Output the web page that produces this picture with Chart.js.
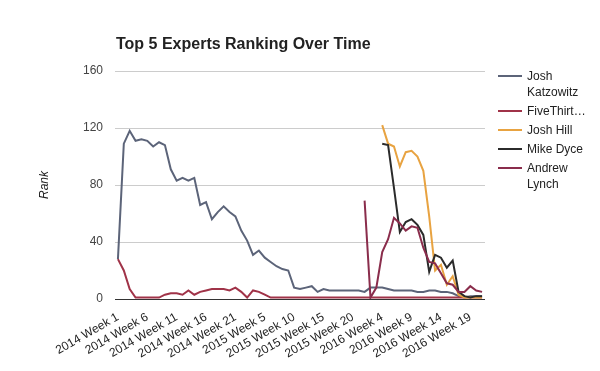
<!DOCTYPE html>
<html>
<head>
<meta charset="utf-8">
<script src="https://cdn.jsdelivr.net/npm/chart.js@4.4.1/dist/chart.umd.min.js"></script>
<style>
  body { margin: 0; background: #fff; }
  canvas { display: block; }
</style>
</head>
<body>
<canvas id="chart" width="600" height="371"></canvas>
<script>
const chartTitle = 'Top 5 Experts Ranking Over Time';
const axisTitle = 'Rank';

const weeks = [
  '2014 Week 1', '2014 Week 2', '2014 Week 3', '2014 Week 4', '2014 Week 5', '2014 Week 6', '2014 Week 7',
  '2014 Week 8', '2014 Week 9', '2014 Week 10', '2014 Week 11', '2014 Week 12', '2014 Week 13', '2014 Week 14',
  '2014 Week 15', '2014 Week 16', '2014 Week 17', '2014 Week 18', '2014 Week 19', '2014 Week 20', '2014 Week 21',
  '2015 Week 1', '2015 Week 2', '2015 Week 3', '2015 Week 4', '2015 Week 5', '2015 Week 6', '2015 Week 7',
  '2015 Week 8', '2015 Week 9', '2015 Week 10', '2015 Week 11', '2015 Week 12', '2015 Week 13', '2015 Week 14',
  '2015 Week 15', '2015 Week 16', '2015 Week 17', '2015 Week 18', '2015 Week 19', '2015 Week 20', '2015 Week 21',
  '2016 Week 1', '2016 Week 2', '2016 Week 3', '2016 Week 4', '2016 Week 5', '2016 Week 6', '2016 Week 7',
  '2016 Week 8', '2016 Week 9', '2016 Week 10', '2016 Week 11', '2016 Week 12', '2016 Week 13', '2016 Week 14',
  '2016 Week 15', '2016 Week 16', '2016 Week 17', '2016 Week 18', '2016 Week 19', '2016 Week 20', '2016 Week 21',
];

const rankTicks = [0, 40, 80, 120, 160];

const joshKatzowitz = [
  28, 109, 118, 111, 112, 111, 107, 110, 108, 91, 83, 85, 83, 85, 66, 68, 56, 61, 65, 61, 58,
  48, 41, 31, 34, 29, 26, 23, 21, 20, 8, 7, 8, 9, 5, 7, 6, 6, 6, 6, 6, 6,
  5, 8, 8, 8, 7, 6, 6, 6, 6, 5, 5, 6, 6, 5, 5, 4, 2, 1, 2, 2, 2,
];

const fiveThirtyEight = [
  28, 20, 7, 1, 1, 1, 1, 1, 3, 4, 4, 3, 6, 3, 5, 6, 7, 7, 7, 6, 8,
  5, 1, 6, 5, 3, 1, 1, 1, 1, 1, 1, 1, 1, 1, 1, 1, 1, 1, 1, 1, 1,
  1, 1, 1, 1, 1, 1, 1, 1, 1, 1, 1, 1, 1, 1, 1, 1, 1, 1, 1, 1, 1,
];

const joshHill = [
  null, null, null, null, null, null, null, null, null, null, null, null, null, null, null, null, null, null, null, null, null,
  null, null, null, null, null, null, null, null, null, null, null, null, null, null, null, null, null, null, null, null, null,
  null, null, null, 122, 109, 107, 93, 103, 104, 100, 90, 58, 20, 24, 10, 16, 3, 1, 1, 1, 1,
];

const mikeDyce = [
  null, null, null, null, null, null, null, null, null, null, null, null, null, null, null, null, null, null, null, null, null,
  null, null, null, null, null, null, null, null, null, null, null, null, null, null, null, null, null, null, null, null, null,
  null, null, null, 109, 108, 78, 47, 54, 56, 52, 45, 19, 31, 29, 22, 27, 5, 2, 1, 2, 2,
];

const andrewLynch = [
  null, null, null, null, null, null, null, null, null, null, null, null, null, null, null, null, null, null, null, null, null,
  null, null, null, null, null, null, null, null, null, null, null, null, null, null, null, null, null, null, null, null, null,
  69, 1, 8, 33, 42, 57, 53, 48, 51, 50, 36, 26, 25, 18, 11, 10, 5, 5, 9, 6, 5,
];

const series = [
  { label: 'Josh Katzowitz', data: joshKatzowitz, color: '#5c6479' },
  { label: 'FiveThirtyEight', data: fiveThirtyEight, color: '#a03348' },
  { label: 'Josh Hill', data: joshHill, color: '#e8a341' },
  { label: 'Mike Dyce', data: mikeDyce, color: '#2b2b2b' },
  { label: 'Andrew Lynch', data: andrewLynch, color: '#8a2d4c' },
];

const fontFamily = 'Arial, "Liberation Sans", sans-serif';
Chart.defaults.font.family = fontFamily;

// wrap legend names like the original does: break on words, cut long words with an ellipsis
function fitLines(ctx, text, width) {
  let lines = [];
  let line = '';
  for (const word of text.split(' ')) {
    let next = line ? line + ' ' + word : word;
    if (!line || ctx.measureText(next).width <= width) {
      line = next;
    } else {
      lines.push(line);
      line = word;
    }
  }
  lines.push(line);

  return lines.map(item => {
    if (ctx.measureText(item).width <= width) return item;
    while (item.length && ctx.measureText(item + '…').width > width) item = item.slice(0, -1);
    return item + '…';
  });
}

const decorations = {
  id: 'decorations',
  afterDraw(chart) {
    const ctx = chart.ctx;
    ctx.save();

    ctx.fillStyle = '#222';
    ctx.textAlign = 'left';
    ctx.textBaseline = 'alphabetic';
    ctx.font = 'bold 16px ' + fontFamily;
    ctx.fillText(chartTitle, chart.chartArea.left + 1, 49);

    ctx.font = '12px ' + fontFamily;
    ctx.textBaseline = 'middle';
    let y = 77;
    for (const item of series) {
      ctx.strokeStyle = item.color;
      ctx.lineWidth = 2;
      ctx.beginPath();
      ctx.moveTo(498, y - 1);
      ctx.lineTo(522, y - 1);
      ctx.stroke();

      let lines = fitLines(ctx, item.label, 60);
      lines.forEach((text, index) => ctx.fillText(text, 527, y + index * 16));
      y += (lines.length - 1) * 16 + 19;
    }

    ctx.restore();
  }
};

new Chart(document.getElementById('chart'), {
  type: 'line',
  data: {
    labels: weeks,
    datasets: series.map((item, index) => ({
      label: item.label,
      data: item.data,
      borderColor: item.color,
      backgroundColor: item.color,
      borderWidth: 2,
      pointRadius: 0,
      tension: 0,
      spanGaps: false,
      order: series.length - index,
    })),
  },
  options: {
    responsive: false,
    animation: false,
    devicePixelRatio: 1,
    layout: { padding: { top: 71, right: 115, left: 0, bottom: 0 } },
    plugins: {
      legend: { display: false },
      tooltip: { enabled: false },
    },
    scales: {
      x: {
        offset: true,
        grid: { display: false },
        border: { display: false },
        afterFit: scale => { scale.height = 72; },
        ticks: {
          autoSkip: false,
          minRotation: 30,
          maxRotation: 30,
          padding: 3,
          color: '#222',
          font: { size: 12 },
          callback: function(value, index) {
            return index % 5 === 0 ? this.getLabelForValue(value) : '';
          },
        },
      },
      y: {
        min: rankTicks[0],
        max: rankTicks[rankTicks.length - 1],
        border: { display: false },
        afterFit: scale => { scale.width = 115; },
        afterBuildTicks: scale => { scale.ticks = rankTicks.map(value => ({ value })); },
        grid: {
          drawTicks: false,
          color: context => context.tick.value === 0 ? '#333' : '#ccc',
        },
        ticks: {
          padding: 12,
          color: '#444',
          font: { size: 12 },
        },
        title: {
          display: true,
          text: axisTitle,
          color: '#222',
          font: { size: 12, style: 'italic' },
          padding: { top: 37, bottom: 0 },
        },
      },
    },
  },
  plugins: [decorations],
});
</script>
</body>
</html>
